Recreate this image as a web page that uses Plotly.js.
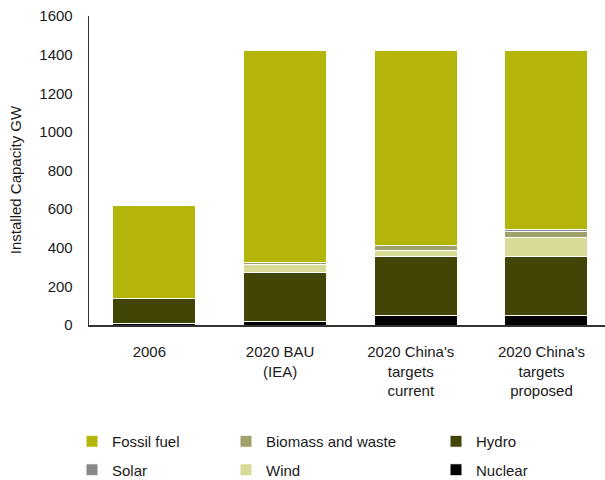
<!DOCTYPE html>
<html>
<head>
<meta charset="utf-8">
<script src="https://cdn.plot.ly/plotly-3.0.1.min.js"></script>
<style>html,body{margin:0;padding:0;background:#fff;}#chart{width:605px;height:480px;}</style>
</head>
<body>
<div id="chart"></div>
<script>
const categories = ["2006", "2020 BAU<br>(IEA)", "2020 China's<br>targets<br>current", "2020 China's<br>targets<br>proposed"];
const nuclear = [7, 20, 50, 50];
const hydro = [128, 250, 305, 305];
const wind = [2, 45, 30, 100];
const biomass = [2, 8, 25, 30];
const solar = [0, 2, 3, 8];
const fossil = [478, 1095, 1007, 927];
const yTicks = [0, 200, 400, 600, 800, 1000, 1200, 1400, 1600];
const yTitle = 'Installed Capacity GW';

const FONT = "Liberation Sans, Arial, Helvetica, sans-serif";
const xIdx = categories.map((_, i) => i);

function tr(name, y, color, legend, rank) {
  return {
    type: 'bar', name: name, x: xIdx, y: y,
    marker: {color: color, line: {color: '#ffffff', width: 1}},
    width: 0.635, legend: legend, legendgroup: name, legendrank: rank,
    hoverinfo: 'name+y'
  };
}

const data = [
  tr('Nuclear', nuclear, '#000000', 'legend3', 2),
  tr('Hydro', hydro, '#424505', 'legend3', 1),
  tr('Wind', wind, '#d8da97', 'legend2', 2),
  tr('Biomass and waste', biomass, '#a0a06a', 'legend2', 1),
  tr('Solar', solar, '#888888', 'legend', 2),
  tr('Fossil fuel', fossil, '#b3b50b', 'legend', 1)
];

function leg(xpx) {
  return {
    xref: 'container', yref: 'container',
    x: xpx / 605, y: 1 - 425 / 480, xanchor: 'left', yanchor: 'top',
    orientation: 'v', traceorder: 'grouped', tracegroupgap: 6,
    font: {family: FONT, size: 15, color: '#1a1a1a'},
    bgcolor: 'rgba(0,0,0,0)', borderwidth: 0
  };
}

const layout = {
  width: 605, height: 480,
  margin: {l: 89.3, r: 0, t: 16, b: 154.5, pad: 0, autoexpand: false},
  paper_bgcolor: '#ffffff', plot_bgcolor: '#ffffff',
  font: {family: FONT, size: 15, color: '#1a1a1a'},
  barmode: 'stack',
  showlegend: true,
  xaxis: {
    range: [-0.5, 3.448], tickvals: xIdx, ticktext: categories, tickangle: 0,
    showgrid: false, zeroline: false, showline: true, linecolor: '#333333', linewidth: 2,
    ticks: '', ticklabelstandoff: 12, ticklabelshift: -5,
    tickfont: {family: FONT, size: 15, color: '#1a1a1a'}, fixedrange: true
  },
  yaxis: {
    range: [0, 1600], tickvals: yTicks, ticktext: yTicks.map(String),
    showgrid: false, zeroline: false, showline: true, linecolor: '#333333', linewidth: 1.3,
    ticks: '', ticklabelstandoff: 12, automargin: false,
    tickfont: {family: FONT, size: 15, color: '#1a1a1a'}, fixedrange: true
  },
  annotations: [{
    text: yTitle, textangle: -90, showarrow: false,
    xref: 'paper', yref: 'paper', x: -74 / 515.7, y: (325.5 - 179.5) / 309.5,
    xanchor: 'center', yanchor: 'middle',
    font: {family: FONT, size: 15, color: '#1a1a1a'}
  }],
  legend: leg(72),
  legend2: leg(226),
  legend3: leg(436)
};

Plotly.newPlot('chart', data, layout, {displayModeBar: false, staticPlot: true});
</script>
</body>
</html>
